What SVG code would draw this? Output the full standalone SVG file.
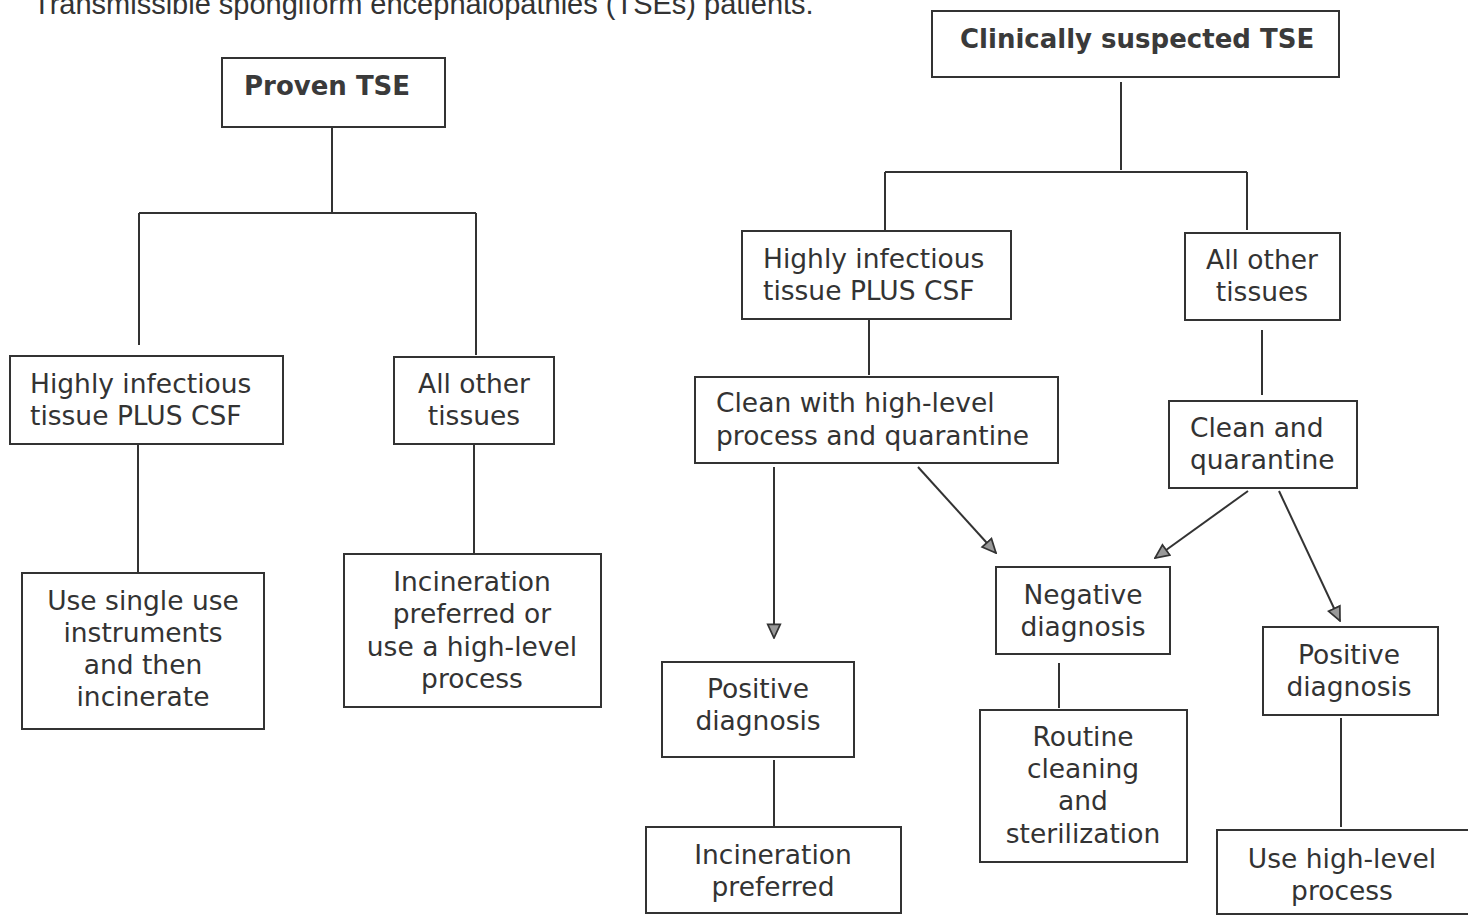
<svg xmlns="http://www.w3.org/2000/svg" width="1468" height="916" viewBox="0 0 1468 916">
<defs>
<style>
.b{fill:#fff;stroke:#333;stroke-width:2}
.t{font-family:"DejaVu Sans",Verdana,sans-serif;font-size:26.5px;fill:#333}
.c{text-anchor:middle}
.h{font-family:"DejaVu Sans",Verdana,sans-serif;font-size:26px;font-weight:bold;fill:#3a3a3a}
.l{stroke:#333;stroke-width:2;fill:none}
.cap{font-family:"Liberation Sans",Arial,sans-serif;font-size:29px;fill:#333}
</style>
<marker id="a2" viewBox="0 0 14 14" refX="13" refY="7" markerWidth="16" markerHeight="16" orient="auto" markerUnits="userSpaceOnUse">
<path d="M1,1.5 L13,7 L1,12.5 Z" fill="#999" stroke="#333" stroke-width="1.5"/>
</marker>
</defs>
<rect width="1468" height="916" fill="#fff"/>
<text class="cap" x="33" y="14">Transmissible spongiform encephalopathies (TSEs) patients.</text>
<g id="connectors">
<path class="l" d="M332,127 V212 M139,213 H476 M139,213 V345 M476,213 V355"/>
<path class="l" d="M138,444 V572 M474,444 V553"/>
<path class="l" d="M1121,82 V170 M885,172 H1247 M885,172 V230 M1247,172 V230"/>
<path class="l" d="M869,320 V375 M1262,330 V395"/>
<path class="l" d="M774,467 V638" marker-end="url(#a2)"/>
<path class="l" d="M918,467 L996,553" marker-end="url(#a2)"/>
<path class="l" d="M1248,491 L1155,558" marker-end="url(#a2)"/>
<path class="l" d="M1279,491 L1340,621" marker-end="url(#a2)"/>
<path class="l" d="M1059,663 V708 M774,760 V826 M1341,718 V827"/>
</g>
<g id="proven"><rect class="b" x="222" y="58" width="223" height="69"/><text class="h" x="244" y="95">Proven TSE</text></g>
<g id="l-hi"><rect class="b" x="10" y="356" width="273" height="88"/><text class="t" x="30" y="393">Highly infectious</text><text class="t" x="30" y="425">tissue PLUS CSF</text></g>
<g id="l-other"><rect class="b" x="394" y="357" width="160" height="87"/><text class="t c" x="474" y="393">All other</text><text class="t c" x="474" y="425">tissues</text></g>
<g id="l-single"><rect class="b" x="22" y="573" width="242" height="156"/><text class="t c" x="143" y="610">Use single use</text><text class="t c" x="143" y="642">instruments</text><text class="t c" x="143" y="674">and then</text><text class="t c" x="143" y="706">incinerate</text></g>
<g id="l-incin"><rect class="b" x="344" y="554" width="257" height="153"/><text class="t c" x="472" y="591">Incineration</text><text class="t c" x="472" y="623">preferred or</text><text class="t c" x="472" y="656">use a high-level</text><text class="t c" x="472" y="688">process</text></g>
<g id="suspected"><rect class="b" x="932" y="11" width="407" height="66"/><text class="h" x="960" y="48">Clinically suspected TSE</text></g>
<g id="r-hi"><rect class="b" x="742" y="231" width="269" height="88"/><text class="t" x="763" y="268">Highly infectious</text><text class="t" x="763" y="300">tissue PLUS CSF</text></g>
<g id="r-other"><rect class="b" x="1185" y="233" width="155" height="87"/><text class="t c" x="1262" y="269">All other</text><text class="t c" x="1262" y="301">tissues</text></g>
<g id="clean-hl"><rect class="b" x="695" y="377" width="363" height="86"/><text class="t" x="716" y="412">Clean with high-level</text><text class="t" x="716" y="445">process and quarantine</text></g>
<g id="clean-q"><rect class="b" x="1169" y="401" width="188" height="87"/><text class="t" x="1190" y="437">Clean and</text><text class="t" x="1190" y="469">quarantine</text></g>
<g id="neg"><rect class="b" x="996" y="567" width="174" height="87"/><text class="t c" x="1083" y="604">Negative</text><text class="t c" x="1083" y="636">diagnosis</text></g>
<g id="pos-l"><rect class="b" x="662" y="662" width="192" height="95"/><text class="t c" x="758" y="698">Positive</text><text class="t c" x="758" y="730">diagnosis</text></g>
<g id="pos-r"><rect class="b" x="1263" y="627" width="175" height="88"/><text class="t c" x="1349" y="664">Positive</text><text class="t c" x="1349" y="696">diagnosis</text></g>
<g id="routine"><rect class="b" x="980" y="710" width="207" height="152"/><text class="t c" x="1083" y="746">Routine</text><text class="t c" x="1083" y="778">cleaning</text><text class="t c" x="1083" y="810">and</text><text class="t c" x="1083" y="843">sterilization</text></g>
<g id="incin-p"><rect class="b" x="646" y="827" width="255" height="86"/><text class="t c" x="773" y="864">Incineration</text><text class="t c" x="773" y="896">preferred</text></g>
<g id="use-hl"><rect class="b" x="1217" y="830" width="253" height="84"/><text class="t c" x="1342" y="868">Use high-level</text><text class="t c" x="1342" y="900">process</text></g>
</svg>
